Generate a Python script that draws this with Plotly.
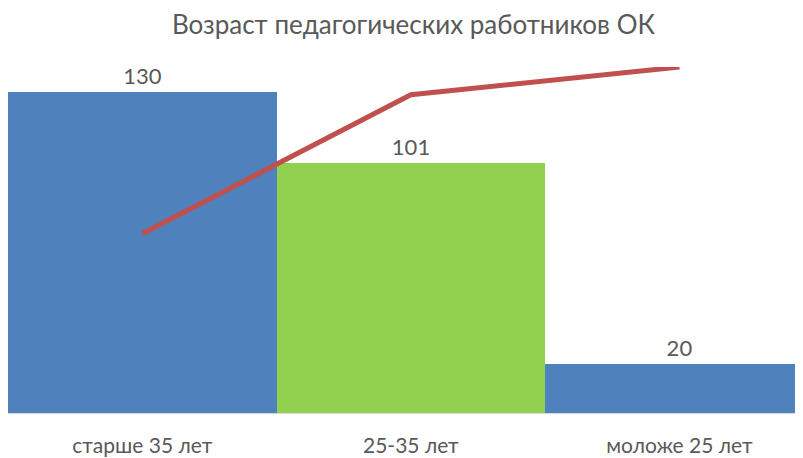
import plotly.graph_objects as go

categories = ["старше 35 лет", "25-35 лет", "моложе 25 лет"]
teachers = [130, 101, 20]
bar_colors = ["#4F81BD", "#92D050", "#4F81BD"]
cumulative_share = [0.518, 0.92, 1.0]

fig = go.Figure()

fig.add_trace(
    go.Bar(
        x=categories,
        y=teachers,
        marker=dict(color=bar_colors, line=dict(width=0)),
        text=teachers,
        textposition="outside",
        textfont=dict(size=22, color="#595959"),
        cliponaxis=False,
        showlegend=False,
    )
)

fig.add_trace(
    go.Scatter(
        x=categories,
        y=cumulative_share,
        mode="lines",
        line=dict(color="#C0504D", width=5),
        yaxis="y2",
        showlegend=False,
    )
)

# page body has an 8px margin, so the figure is offset a bit inside the window
fig.update_layout(
    width=795,
    height=450,
    margin=dict(l=0, r=0, t=59, b=45),
    paper_bgcolor="white",
    plot_bgcolor="white",
    bargap=0,
    font=dict(family="Lato, Open Sans, sans-serif", color="#595959"),
    title=dict(
        text="Возраст педагогических работников ОК",
        x=0.51,
        xanchor="center",
        y=0.962,
        yanchor="middle",
        font=dict(size=26, color="#595959"),
    ),
    xaxis=dict(
        range=[-0.5, 2.46],
        showline=True,
        linecolor="#D9D9D9",
        linewidth=1,
        showgrid=False,
        automargin=False,
        tickfont=dict(size=21, color="#595959"),
        ticklabelstandoff=14,
    ),
    yaxis=dict(range=[0, 140], visible=False, showgrid=False),
    yaxis2=dict(range=[0, 1], overlaying="y", visible=False, showgrid=False),
)

fig.write_html("out.html")
